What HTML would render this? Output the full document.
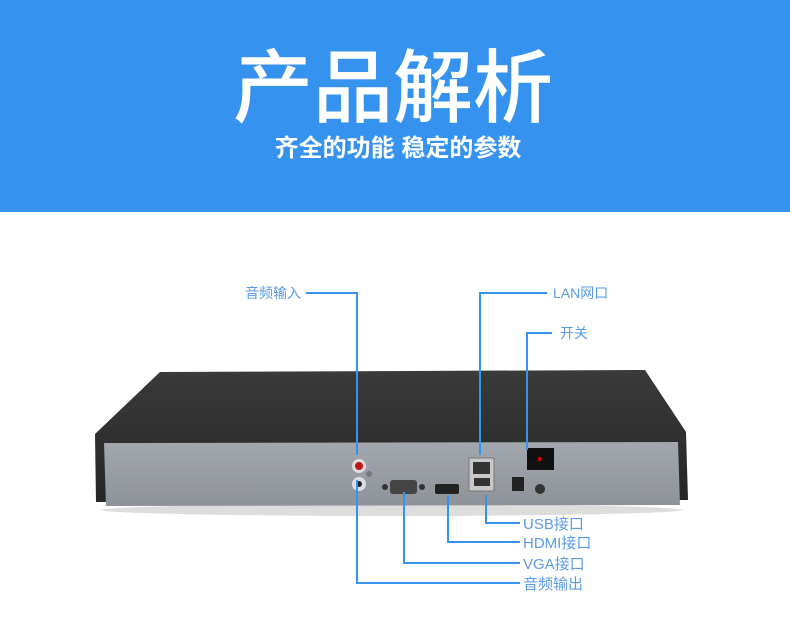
<!DOCTYPE html>
<html><head><meta charset="utf-8"><style>
html,body{margin:0;padding:0;width:790px;height:620px;overflow:hidden;background:#fff}
.hdr{position:absolute;left:0;top:0;width:790px;height:212px;background:#3592ef}
.t{position:absolute;left:0;width:790px;text-align:center;color:#fff;font-family:"Liberation Sans","Noto Sans CJK SC",sans-serif}
</style></head><body>
<div class="hdr"></div>
<div class="t" style="top:41px;left:-2px;font-size:80px;line-height:96px;font-weight:500">产品解析</div>
<div class="t" style="top:132px;left:3px;font-size:24px;line-height:34px;font-weight:bold">齐全的功能 稳定的参数</div>
<svg width="790" height="620" style="position:absolute;left:0;top:0" xmlns="http://www.w3.org/2000/svg">
<defs>
<linearGradient id="tp" x1="0" y1="0" x2="0" y2="1"><stop offset="0" stop-color="#3a3a3a"/><stop offset="1" stop-color="#262626"/></linearGradient>
<linearGradient id="fr" x1="0" y1="0" x2="0" y2="1"><stop offset="0" stop-color="#a3a7ae"/><stop offset="1" stop-color="#8e9299"/></linearGradient>
</defs>
<ellipse cx="392" cy="510" rx="290" ry="6" fill="#ddd"/>
<polygon points="160,372 645,370 686,432 688,500 96,502 95,434" fill="url(#tp)"/>
<polygon points="104,443 678,442 680,505 106,506" fill="url(#fr)"/>
<circle cx="359" cy="466" r="7" fill="#ddd"/><circle cx="359" cy="466" r="4" fill="#c01515"/>
<circle cx="359" cy="484" r="7" fill="#ddd"/><circle cx="359" cy="484" r="3" fill="#222"/>
<circle cx="369" cy="474" r="3" fill="#777"/>
<rect x="390" y="480" width="27" height="14" rx="3" fill="#444"/><circle cx="385" cy="487" r="3" fill="#333"/><circle cx="422" cy="487" r="3" fill="#333"/>
<rect x="435" y="484" width="24" height="10" rx="2" fill="#222"/>
<rect x="469" y="458" width="25" height="33" fill="#c8c8c8" stroke="#777"/>
<rect x="473" y="462" width="17" height="12" fill="#333"/>
<rect x="474" y="478" width="16" height="8" fill="#333"/>
<rect x="512" y="477" width="12" height="14" fill="#222"/>
<circle cx="540" cy="489" r="5" fill="#333"/>
<rect x="527" y="448" width="27" height="22" fill="#111"/><rect x="538" y="457" width="3" height="4" fill="#c00"/>
<g fill="none" stroke="#3592ef" stroke-width="2">
<polyline points="306,293 357,293 357,455"/>
<polyline points="547,293 480,293 480,455"/>
<polyline points="552,333 527,333 527,450"/>
<polyline points="357,480 357,583 520,583"/>
<polyline points="404,492 404,563 520,563"/>
<polyline points="448,495 448,542 520,542"/>
<polyline points="486,495 486,523 520,523"/>
</g>
<g font-family="Liberation Sans,Noto Sans CJK SC,sans-serif" font-size="14" fill="#5b9be6">
<text x="245" y="298">音频输入</text>
<text x="553" y="298">LAN网口</text>
<text x="560" y="338">开关</text>
<g font-size="15"><text x="523" y="529">USB接口</text>
<text x="523" y="548">HDMI接口</text>
<text x="523" y="569">VGA接口</text>
<text x="523" y="589">音频输出</text></g>
</g>
</svg>
</body></html>
